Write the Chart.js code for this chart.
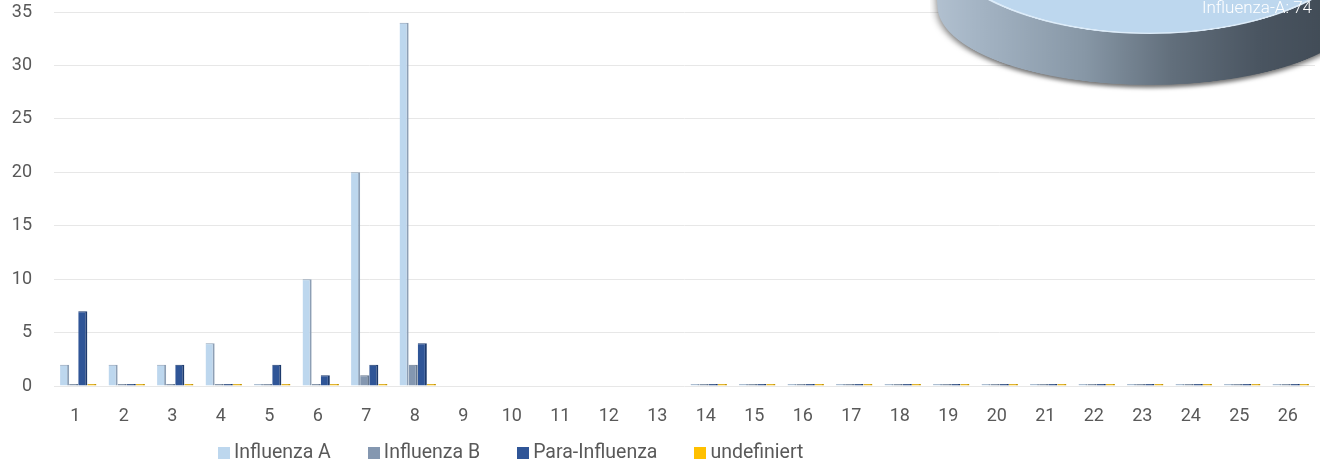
<!DOCTYPE html>
<html>
<head>
<meta charset="utf-8">
<script src="https://cdn.jsdelivr.net/npm/chart.js@4.4.1/dist/chart.umd.min.js"></script>
<style>
  html, body { margin: 0; padding: 0; background: #ffffff; }
  body { width: 1320px; height: 466px; position: relative; overflow: hidden; }
  #main { position: absolute; left: 0; top: 0; }
  #pie { position: absolute; left: 930px; top: -176px; transform: scaleY(0.4773); transform-origin: 0 0; }
  #pieLabel { position: absolute; right: 8px; top: -1px; font: 300 17px Roboto, 'Liberation Sans', sans-serif; color: #ffffff; line-height: 1; white-space: nowrap; }
  #legend { position: absolute; left: 218px; top: 442px; display: flex; gap: 37px; font: 400 19.5px Roboto, 'Liberation Sans', sans-serif; color: #595959; line-height: 20px; }
  .item { display: flex; align-items: center; }
  .box { width: 12px; height: 12px; margin-right: 4px; margin-top: 1px; }
</style>
</head>
<body>
<canvas id="main" width="1320" height="466"></canvas>
<canvas id="pie" width="440" height="600"></canvas>
<div id="pieLabel"></div>
<div id="legend"></div>
<script>
// ---- data ----
const categories = ['1','2','3','4','5','6','7','8','9','10','11','12','13','14','15','16','17','18','19','20','21','22','23','24','25','26'];
const influenzaA    = [2, 2, 2, 4, 0, 10, 20, 34, null, null, null, null, null, 0, 0, 0, 0, 0, 0, 0, 0, 0, 0, 0, 0, 0];
const influenzaB    = [0, 0, 0, 0, 0, 0, 1, 2, null, null, null, null, null, 0, 0, 0, 0, 0, 0, 0, 0, 0, 0, 0, 0, 0];
const paraInfluenza = [7, 0, 2, 0, 2, 1, 2, 4, null, null, null, null, null, 0, 0, 0, 0, 0, 0, 0, 0, 0, 0, 0, 0, 0];
const undefiniert   = [0, 0, 0, 0, 0, 0, 0, 0, null, null, null, null, null, 0, 0, 0, 0, 0, 0, 0, 0, 0, 0, 0, 0, 0];
const seriesNames = ['Influenza A', 'Influenza B', 'Para-Influenza', 'undefiniert'];
const pieLabels = ['Influenza-A', 'Influenza-B', 'Para-Influenza', 'undefiniert'];
const yTicks = [0, 5, 10, 15, 20, 25, 30, 35];

// ---- styles ----
const fillColors = ['#bdd7ee', '#8497b0', '#2f5597', '#ffc000'];
const edgeColors = ['#8d9fb5', '#66788f', '#1d3a6c', '#c99700'];
const FONT = "Roboto, 'Liberation Sans', sans-serif";

const sum = arr => arr.reduce((a, v) => a + (v || 0), 0);
const pieValues = [sum(influenzaA), sum(influenzaB), sum(paraInfluenza), sum(undefiniert)];

const seriesData = [influenzaA, influenzaB, paraInfluenza, undefiniert];

new Chart(document.getElementById('main'), {
  type: 'bar',
  data: {
    labels: categories,
    datasets: seriesData.map((d, i) => ({
      label: seriesNames[i],
      data: d,
      backgroundColor: fillColors[i],
      borderColor: edgeColors[i],
      borderWidth: { top: 1, right: 2, left: 0, bottom: 0 },
      borderSkipped: 'bottom',
      minBarLength: 2,
      barPercentage: 1.0,
      categoryPercentage: 0.75
    }))
  },
  options: {
    responsive: false,
    animation: false,
    devicePixelRatio: 1,
    layout: { padding: { top: 0, right: 5, bottom: 0, left: 0 } },
    plugins: { legend: { display: false }, tooltip: { enabled: false } },
    scales: {
      x: {
        grid: { display: false },
        border: { display: false },
        ticks: { color: '#595959', font: { family: FONT, size: 18, weight: 400, lineHeight: 1 }, padding: 13, labelOffset: -3, maxRotation: 0, autoSkip: false },
        afterFit: s => { s.height = 80; }
      },
      y: {
        min: 0, max: 35,
        afterBuildTicks: s => { s.ticks = yTicks.map(v => ({ value: v })); },
        grid: { color: '#e7e7e7', lineWidth: 1, drawTicks: false },
        border: { display: false },
        ticks: { color: '#595959', font: { family: FONT, size: 18, weight: 400, lineHeight: 1 }, padding: 22 },
        afterFit: s => { s.width = 54; s.paddingTop = 12; }
      }
    }
  }
});

// ---- 3D-like pie (partly outside the page, as in the reference) ----
const pieSide = {
  id: 'pieSide',
  beforeDatasetsDraw(chart) {
    const arc = chart.getDatasetMeta(0).data[0];
    if (!arc) return;
    const cx = arc.x, cy = arc.y, r = arc.outerRadius;
    const d = 0.733 * r, rxs = 0.973 * r, rys = 0.762 * r;
    const ctx = chart.ctx;
    ctx.save();
    const g = ctx.createLinearGradient(cx - r, 0, cx + r, 0);
    g.addColorStop(0.00, '#b3c2d1');
    g.addColorStop(0.10, '#a5b5c5');
    g.addColorStop(0.35, '#8797a6');
    g.addColorStop(0.55, '#626f7c');
    g.addColorStop(0.75, '#4a5561');
    g.addColorStop(1.00, '#3c4650');
    ctx.fillStyle = g;
    ctx.shadowColor = 'rgba(0,0,0,0.55)';
    ctx.shadowBlur = 8;
    ctx.shadowOffsetY = 6;
    ctx.beginPath();
    ctx.moveTo(cx - r, cy);
    ctx.lineTo(cx - rxs, cy + d);
    ctx.ellipse(cx, cy + d, rxs, rys, 0, Math.PI, 0, true);
    ctx.lineTo(cx + r, cy);
    ctx.closePath();
    ctx.fill();
    ctx.restore();
  }
};

new Chart(document.getElementById('pie'), {
  type: 'pie',
  data: {
    labels: pieLabels,
    datasets: [{
      data: pieValues,
      backgroundColor: fillColors,
      borderColor: '#ddecf9',
      borderWidth: 3,
      hoverOffset: 0
    }]
  },
  options: {
    responsive: false,
    animation: false,
    devicePixelRatio: 1,
    layout: { padding: { top: 0, left: 0, right: 0, bottom: 160 } },
    plugins: { legend: { display: false }, tooltip: { enabled: false } }
  },
  plugins: [pieSide]
});

document.getElementById('pieLabel').textContent = pieLabels[0] + ': ' + pieValues[0];

// ---- legend ----
const legend = document.getElementById('legend');
seriesNames.forEach((name, i) => {
  const item = document.createElement('div');
  item.className = 'item';
  const box = document.createElement('span');
  box.className = 'box';
  box.style.background = fillColors[i];
  const txt = document.createElement('span');
  txt.textContent = name;
  item.appendChild(box);
  item.appendChild(txt);
  legend.appendChild(item);
});
</script>
</body>
</html>
